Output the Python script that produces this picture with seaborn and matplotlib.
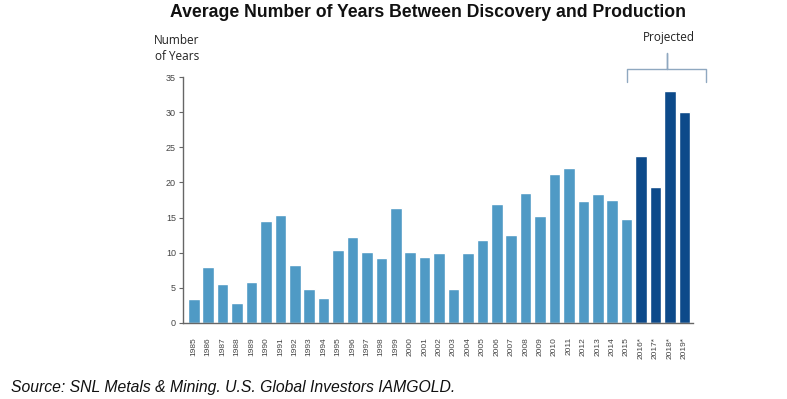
import matplotlib
matplotlib.use("Agg")
import matplotlib.pyplot as plt
import seaborn as sns
import pandas as pd

# =========================
# DADOS
# =========================
anos = [
    "1985", "1986", "1987", "1988", "1989", "1990", "1991", "1992", "1993", "1994",
    "1995", "1996", "1997", "1998", "1999", "2000", "2001", "2002", "2003", "2004",
    "2005", "2006", "2007", "2008", "2009", "2010", "2011", "2012", "2013", "2014",
    "2015", "2016*", "2017*", "2018*", "2019*"
]

anos_medios = [
    3.4, 7.9, 5.6, 2.8, 5.8, 14.5, 15.3, 8.3, 4.9, 3.6,
    10.4, 12.3, 10.1, 9.2, 16.3, 10.1, 9.4, 10.0, 4.9, 9.9,
    11.8, 16.9, 12.5, 18.5, 15.2, 21.2, 22.0, 17.4, 18.4, 17.5,
    14.8, 23.8, 19.4, 33.0, 30.0
]

tipo = ["Histórico"] * 31 + ["Projetado"] * 4

cores = {"Histórico": "#4f9ac5", "Projetado": "#0d4a8a"}

df = pd.DataFrame({"ano": anos, "valor": anos_medios, "tipo": tipo})

# =========================
# FIGURA
# =========================
sns.set_theme(style="white")
plt.rcParams["font.family"] = ["Liberation Sans", "DejaVu Sans"]

fig = plt.figure(figsize=(7.87, 3.99), dpi=100)
ax = fig.add_axes([0.2325, 0.1905, 0.648, 0.6165])

sns.barplot(
    data=df,
    x="ano",
    y="valor",
    hue="tipo",
    palette=cores,
    saturation=1,
    dodge=False,
    width=0.8,
    legend=False,
    ax=ax
)

ax.set_xlim(-0.75, 34.6)
ax.set_ylim(0, 35)
ax.set_yticks(range(0, 36, 5))
ax.set_xlabel("")
ax.set_ylabel("")

for lado in ["top", "right"]:
    ax.spines[lado].set_visible(False)
for lado in ["left", "bottom"]:
    ax.spines[lado].set_color("#666666")
    ax.spines[lado].set_linewidth(1.0)

ax.tick_params(axis="y", left=True, length=3, width=0.8, color="#666666",
               labelsize=6.5, labelcolor="#444444", pad=2)
ax.tick_params(axis="x", bottom=False, labelsize=6, labelcolor="#444444",
               rotation=90, pad=4)

# =========================
# TEXTOS
# =========================
fig.text(0.544, 0.968, "Average Number of Years Between Discovery and Production",
         ha="center", va="center", fontsize=12.7, fontweight="bold", color="#111111")

fig.text(0.225, 0.878, "Number\nof Years", ha="center", va="center",
         fontsize=8.5, color="#222222", linespacing=1.3,
         family=["Open Sans", "DejaVu Sans"])

fig.text(0.85, 0.907, "Projected", ha="center", va="center",
         fontsize=8.5, color="#222222", family=["Open Sans", "DejaVu Sans"])

fig.text(0.014, 0.028, "Source: SNL Metals & Mining. U.S. Global Investors IAMGOLD.",
         ha="left", va="center", fontsize=11.3, style="italic", color="#111111")

# chave "Projected"
x_esq, x_meio, x_dir = 627 / 787, 667 / 787, 706 / 787
y_base, y_linha, y_topo = 1 - 82 / 399, 1 - 69 / 399, 1 - 53 / 399
fig.add_artist(plt.Line2D(
    [x_esq, x_esq, x_meio, x_meio, x_meio, x_dir, x_dir],
    [y_base, y_linha, y_linha, y_topo, y_linha, y_linha, y_base],
    transform=fig.transFigure, color="#8fa8c0", linewidth=1.0
))

fig.savefig("out.png", dpi=100)
